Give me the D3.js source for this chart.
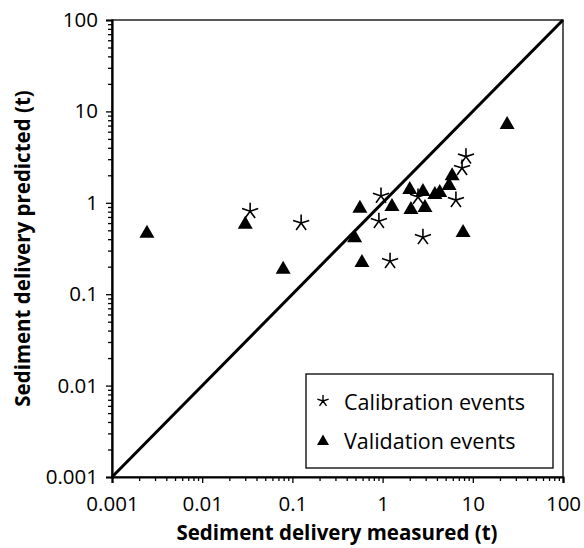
<!DOCTYPE html>
<html>
<head>
<meta charset="utf-8">
<script src="https://cdn.jsdelivr.net/npm/d3@7"></script>
<style>
  html, body { margin: 0; padding: 0; background: #fff; }
  svg { display: block; font-family: "Open Sans", "DejaVu Sans", sans-serif; }
</style>
</head>
<body>
<svg id="chart" width="584" height="548"></svg>
<script>
// Calibration events: measured vs predicted sediment delivery (t)
const calibMeasured  = [0.034, 0.125, 0.96, 0.91, 1.21, 2.47, 2.8, 6.5, 7.6, 8.4];
const calibPredicted = [0.81, 0.60, 1.19, 0.63, 0.23, 1.16, 0.42, 1.07, 2.4, 3.2];

// Validation events
const validMeasured  = [0.00244, 0.030, 0.079, 0.49, 0.59, 0.56, 1.27, 2.0, 2.06, 2.8, 2.95, 3.8, 4.3, 5.45, 5.9, 7.8, 24];
const validPredicted = [0.47, 0.59, 0.19, 0.42, 0.225, 0.88, 0.92, 1.42, 0.855, 1.35, 0.90, 1.25, 1.31, 1.57, 2.0, 0.48, 7.3];

const tickValues = [0.001, 0.01, 0.1, 1, 10, 100];
const tickLabels = ["0.001", "0.01", "0.1", "1", "10", "100"];
const legendLabels = ["Calibration events", "Validation events"];
const xTitle = "Sediment delivery measured (t)";
const yTitle = "Sediment delivery predicted (t)";

const svg = d3.select("#chart");
const plot = { left: 112, right: 563, top: 20, bottom: 477 };

const x = d3.scaleLog().domain([0.001, 100]).range([plot.left, plot.right]);
const y = d3.scaleLog().domain([0.001, 100]).range([plot.bottom, plot.top]);

// minor ticks: 2..9 within each decade
const minor = [];
for (let d = -3; d < 2; d++) {
  for (let m = 2; m <= 9; m++) minor.push(m * Math.pow(10, d));
}

const labelFor = v => tickLabels[tickValues.findIndex(t => Math.abs(t - v) / v < 1e-9)];

// frame (top and right)
svg.append("rect")
  .attr("x", plot.left).attr("y", plot.top)
  .attr("width", plot.right - plot.left).attr("height", plot.bottom - plot.top)
  .attr("fill", "none").attr("stroke", "#000").attr("stroke-width", 1.3);

// x axis
const gx = svg.append("g").attr("transform", `translate(0,${plot.bottom})`);
gx.call(d3.axisBottom(x).tickValues(minor).tickSize(4).tickFormat(""))
  .call(g => g.select(".domain").remove());
gx.append("g").call(d3.axisBottom(x).tickValues(tickValues).tickSize(6).tickPadding(13).tickFormat(labelFor))
  .call(g => g.select(".domain").attr("stroke-width", 2.2));
gx.selectAll("line").attr("stroke-width", 1.3);
gx.selectAll("text").attr("font-size", 20.5).attr("font-family", "'Open Sans', sans-serif").attr("fill", "#000");

// y axis
const gy = svg.append("g").attr("transform", `translate(${plot.left},0)`);
gy.call(d3.axisLeft(y).tickValues(minor).tickSize(4).tickFormat(""))
  .call(g => g.select(".domain").remove());
gy.append("g").call(d3.axisLeft(y).tickValues(tickValues).tickSize(6).tickPadding(8).tickFormat(labelFor))
  .call(g => g.select(".domain").attr("stroke-width", 2.2));
gy.selectAll("line").attr("stroke-width", 1.3);
gy.selectAll("text").attr("font-size", 20.5).attr("font-family", "'Open Sans', sans-serif").attr("fill", "#000");

// 1:1 line
svg.append("line")
  .attr("x1", x(0.001)).attr("y1", y(0.001))
  .attr("x2", x(100)).attr("y2", y(100))
  .attr("stroke", "#000").attr("stroke-width", 3);

// markers
const triPath = "M0,-8 L7.5,5 L-7.5,5 Z";
const starArms = d3.range(5).map(i => {
  const a = (-90 + i * 72) * Math.PI / 180;
  return `M0,0 L${(8.5 * Math.cos(a)).toFixed(2)},${(8.5 * Math.sin(a)).toFixed(2)}`;
}).join(" ");

svg.append("g").selectAll("path")
  .data(validMeasured.map((m, i) => [m, validPredicted[i]]))
  .join("path")
  .attr("transform", d => `translate(${x(d[0])},${y(d[1])})`)
  .attr("d", triPath)
  .attr("fill", "#000");

svg.append("g").selectAll("path")
  .data(calibMeasured.map((m, i) => [m, calibPredicted[i]]))
  .join("path")
  .attr("transform", d => `translate(${x(d[0])},${y(d[1])})`)
  .attr("d", starArms)
  .attr("fill", "none").attr("stroke", "#000").attr("stroke-width", 1.6);

// legend
const lg = svg.append("g");
lg.append("rect")
  .attr("x", 306).attr("y", 374).attr("width", 247).attr("height", 94)
  .attr("fill", "#fff").attr("stroke", "#000").attr("stroke-width", 1.3);
lg.append("path")
  .attr("transform", "translate(323,401) scale(0.7)")
  .attr("d", starArms).attr("fill", "none").attr("stroke", "#000").attr("stroke-width", 2);
lg.append("path")
  .attr("transform", "translate(323,441) scale(0.8)")
  .attr("d", triPath).attr("fill", "#000");
lg.selectAll("text")
  .data(legendLabels)
  .join("text")
  .attr("x", 344).attr("y", (d, i) => 402 + i * 39)
  .attr("dy", "0.35em")
  .attr("font-size", 21.5)
  .attr("fill", "#000")
  .text(d => d);

// axis titles
svg.append("text")
  .attr("x", 337).attr("y", 540)
  .attr("text-anchor", "middle")
  .attr("font-size", 20.5).attr("font-weight", "bold")
  .text(xTitle);

svg.append("text")
  .attr("transform", `translate(30,${(plot.top + plot.bottom) / 2}) rotate(-90)`)
  .attr("text-anchor", "middle")
  .attr("font-size", 20.5).attr("font-weight", "bold")
  .text(yTitle);
</script>
</body>
</html>
